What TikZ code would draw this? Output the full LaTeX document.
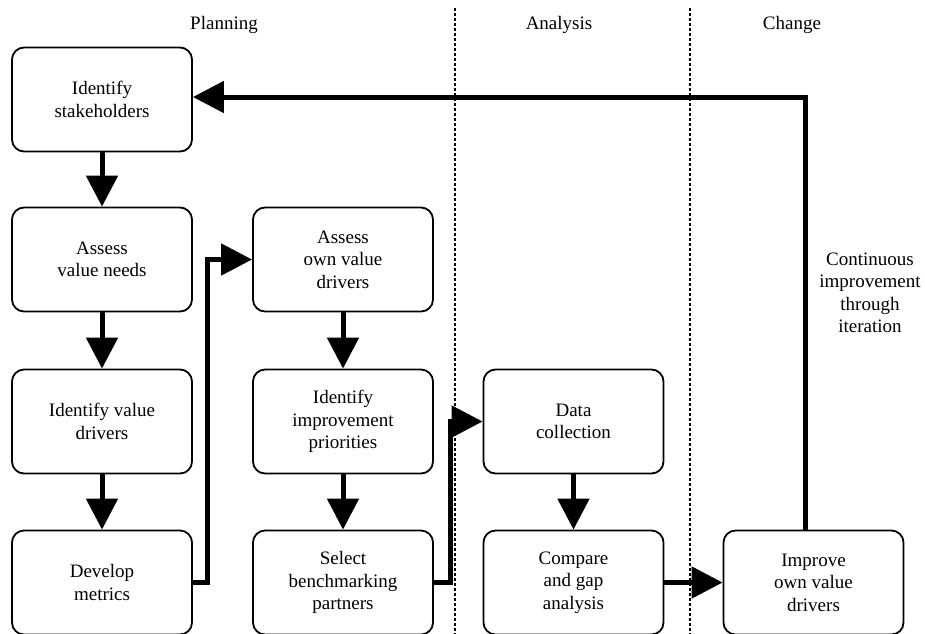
\documentclass[tikz,border=0pt]{standalone}
\usepackage{fontspec}
\setmainfont{Liberation Serif}
\usetikzlibrary{arrows.meta}
\begin{document}
\begin{tikzpicture}[x=1pt,y=-1pt,
  stepbox/.style={draw, line width=1.8pt, rounded corners=12pt,
    minimum width=180pt, minimum height=104pt, align=center,
    inner sep=0pt, font=\fontsize{19}{22.5}\selectfont},
  flow/.style={line width=5pt, -{Triangle[length=31pt,width=31pt]}},
  phase/.style={font=\fontsize{19}{22.5}\selectfont},
  divider/.style={line width=2pt, dash pattern=on 3pt off 2pt}]
\useasboundingbox (0,0) rectangle (925,633);

% phase dividers
\draw[divider] (455,8) -- (455,640);
\draw[divider] (690,8) -- (690,640);

% phase headings
\node[phase] (planning) at (224,25) {Planning};
\node[phase] (analysis) at (559,25) {Analysis};
\node[phase] (change) at (792,25) {Change};

% planning column 1
\node[stepbox] (is)  at (102,99.5)  {Identify\\stakeholders};
\node[stepbox] (avn) at (102,259.5) {Assess\\value needs};
\node[stepbox] (ivd) at (102,421.5) {Identify value\\drivers};
\node[stepbox] (dm)  at (102,582.5) {Develop\\metrics};

% planning column 2
\node[stepbox] (aov) at (343,259.5) {Assess\\own value\\drivers};
\node[stepbox] (iip) at (343,421.5) {Identify\\improvement\\priorities};
\node[stepbox] (sbp) at (343,582.5) {Select\\benchmarking\\partners};

% analysis
\node[stepbox] (dc)  at (573.5,421.5) {Data\\collection};
\node[stepbox] (cga) at (573.5,582.5) {Compare\\and gap\\analysis};

% change
\node[stepbox] (iov) at (813.5,582.5) {Improve\\own value\\drivers};

\node[phase, align=center] (loop) at (870,293)
  {Continuous\\improvement\\through\\iteration};

% flow
\draw[flow] (is) -- (avn);
\draw[flow] (avn) -- (ivd);
\draw[flow] (ivd) -- (dm);
\draw[flow] (aov) -- (iip);
\draw[flow] (iip) -- (sbp);
\draw[flow] (dc) -- (cga);
\draw[flow] (dm.east) -- ++(15,0) |- (aov.west);
\draw[flow] (sbp.east) -- ++(17,0) |- (dc.west);
\draw[flow] (cga) -- (iov);

% feedback loop
\coordinate (loopcorner) at (805.5,97);
\draw[flow] (iov.north -| loopcorner) -- (loopcorner) -- (is.east |- loopcorner);
\end{tikzpicture}
\end{document}
